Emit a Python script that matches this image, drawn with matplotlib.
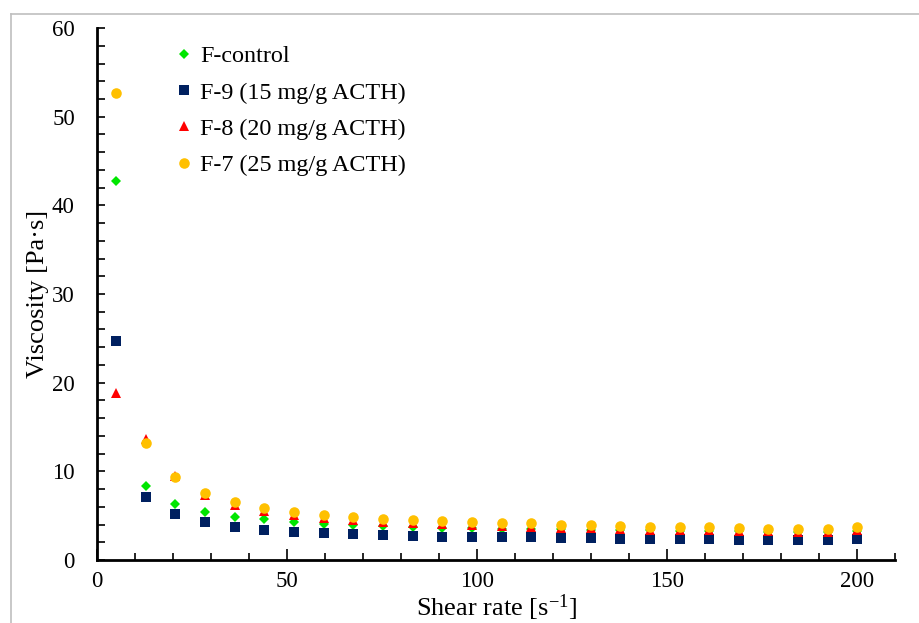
import numpy as np
import matplotlib
matplotlib.use('Agg')
import matplotlib.pyplot as plt
from matplotlib.lines import Line2D
from matplotlib.ticker import MultipleLocator

plt.rcParams['font.family'] = ['Liberation Serif', 'DejaVu Serif']
plt.rcParams['mathtext.fontset'] = 'custom'
plt.rcParams['mathtext.rm'] = 'Liberation Serif'
plt.rcParams['mathtext.it'] = 'Liberation Serif:italic'

# --- Data: shear rate sweep (26 steps) ---
shear_rate = [5.0, 12.8, 20.6, 28.4, 36.2, 44.0, 51.8, 59.6, 67.4, 75.2, 83.0, 90.8, 98.6,
              106.4, 114.2, 122.0, 129.8, 137.6, 145.4, 153.2, 161.0, 168.8, 176.6, 184.4, 192.2, 200.0]

visc_control = [42.7, 8.4, 6.35, 5.45, 4.9, 4.6, 4.3, 4.1, 3.95, 3.83, 3.72, 3.65, 3.6,
                3.55, 3.5, 3.45, 3.4, 3.37, 3.33, 3.3, 3.27, 3.24, 3.2, 3.17, 3.14, 3.3]
visc_f9 = [24.7, 7.07, 5.15, 4.25, 3.76, 3.42, 3.2, 3.0, 2.9, 2.78, 2.74, 2.63, 2.6,
           2.56, 2.56, 2.48, 2.45, 2.4, 2.37, 2.33, 2.33, 2.29, 2.29, 2.25, 2.25, 2.4]
visc_f8 = [18.8, 13.7, 9.5, 7.3, 6.2, 5.5, 5.05, 4.7, 4.5, 4.3, 4.15, 4.02, 3.92,
           3.82, 3.75, 3.62, 3.56, 3.48, 3.42, 3.36, 3.33, 3.28, 3.24, 3.2, 3.16, 3.35]
visc_f7 = [52.7, 13.15, 9.32, 7.52, 6.58, 5.9, 5.45, 5.1, 4.88, 4.66, 4.51, 4.4, 4.28,
           4.2, 4.13, 3.98, 3.91, 3.83, 3.76, 3.68, 3.68, 3.6, 3.53, 3.53, 3.46, 3.76]

labels = ['F-control', 'F-9 (15 mg/g ACTH)', 'F-8 (20 mg/g ACTH)', 'F-7 (25 mg/g ACTH)']
colors = ['#00E600', '#002060', '#FF0000', '#FFC000']
markers = ['D', 's', '^', 'o']
sizes = [5.5, 7.2, 6.8, 7.6]


def main():
    fig = plt.figure(figsize=(9.19, 6.23), dpi=100)
    ax = fig.add_axes([0.1056, 0.1011, 0.9744 - 0.1056, 0.955 - 0.1011])

    series = [visc_control, visc_f9, visc_f8, visc_f7]
    for y, lab, c, m, ms in zip(series, labels, colors, markers, sizes):
        ax.plot(shear_rate, y, linestyle='none', marker=m, color=c, markersize=ms,
                markeredgewidth=0, label=lab)

    ax.set_xlim(0, 210)
    ax.set_ylim(0, 60)
    ax.xaxis.set_major_locator(MultipleLocator(50))
    ax.xaxis.set_minor_locator(MultipleLocator(10))
    ax.yaxis.set_major_locator(MultipleLocator(10))
    ax.yaxis.set_minor_locator(MultipleLocator(2))
    ax.tick_params(axis='x', which='major', direction='in', length=8, width=1.2, labelsize=16.5, pad=8)
    ax.tick_params(axis='x', which='minor', direction='in', length=5, width=1.2)
    ax.tick_params(axis='y', which='major', direction='in', length=6, width=1.2, labelsize=16.5, pad=16)
    ax.tick_params(axis='y', which='minor', direction='in', length=6, width=1.2)

    for side in ['top', 'right']:
        ax.spines[side].set_visible(False)
    for side in ['left', 'bottom']:
        ax.spines[side].set_linewidth(2)

    ax.set_xlabel(r'Shear rate [s$^{\mathregular{-1}}$]', fontsize=19, labelpad=0)
    ax.set_ylabel('Viscosity [Pa·s]', fontsize=19, labelpad=2)

    ax.legend(loc='upper left', bbox_to_anchor=(0.082, 0.995), frameon=False, fontsize=17.4,
              handlelength=0.6, handletextpad=0.35, labelspacing=0.6, borderaxespad=0.2)

    # light outer frame (left and top edges show)
    fig.add_artist(Line2D([11 / 919, 11 / 919], [0, 1 - 14 / 623], color='#BFBFBF', lw=1.2))
    fig.add_artist(Line2D([11 / 919, 1], [1 - 14 / 623, 1 - 14 / 623], color='#BFBFBF', lw=1.2))

    fig.savefig('out.png', dpi=100)
    plt.close(fig)


if __name__ == "__main__":
    main()
